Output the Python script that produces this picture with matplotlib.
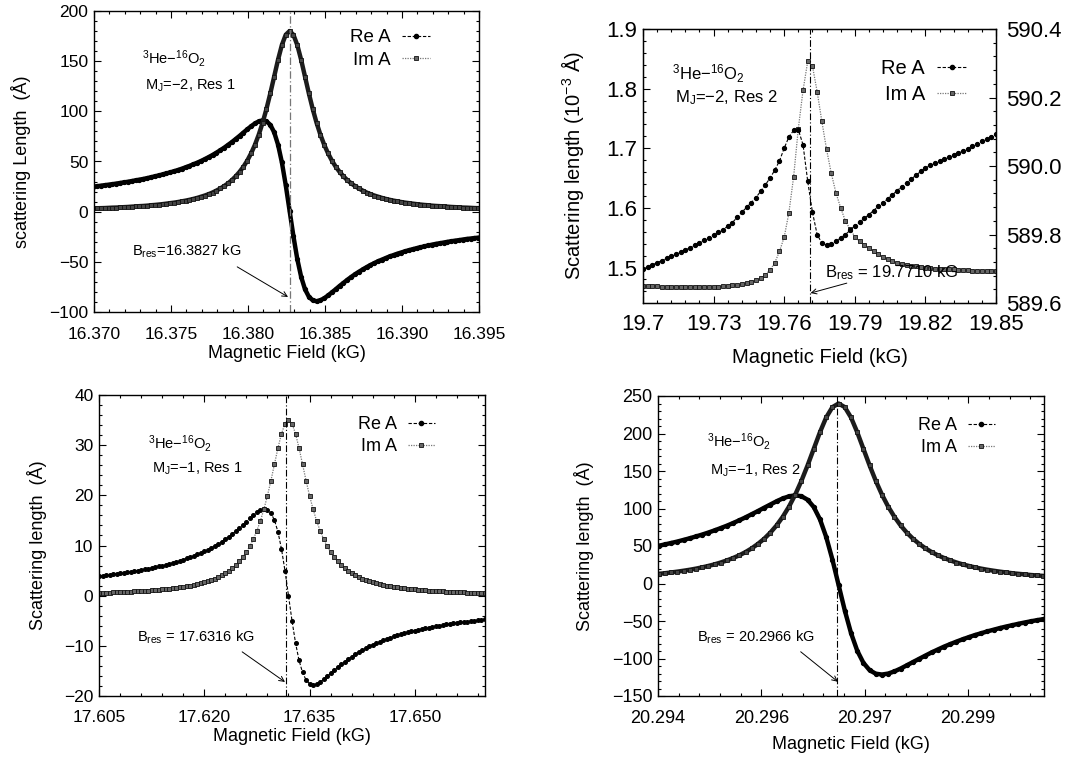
#!/usr/bin/env python3
# -*- coding: utf-8 -*-
"""
3He-16O2 Feshbach resonances: real and imaginary part of the scattering length
"""

import matplotlib.pyplot as plt
import numpy as np
from matplotlib.lines import Line2D
from matplotlib.ticker import (AutoMinorLocator, FixedFormatter, FixedLocator,
                               FormatStrFormatter, MultipleLocator)

plt.rcParams['font.family'] = ['Liberation Sans', 'DejaVu Sans']
plt.rcParams['mathtext.fontset'] = 'custom'
plt.rcParams['mathtext.rm'] = 'Liberation Sans'
plt.rcParams['mathtext.it'] = 'Liberation Sans:italic'
plt.rcParams['mathtext.bf'] = 'Liberation Sans:bold'

# ---- panel 1 : M_J=-2, Res 1 (field grid 16.3827 + 0.00025*k, k=-51..50)
b_res_1 = 16.3827
re_1 = [24.9, 25.4, 25.9, 26.4, 26.9, 27.4, 28.0, 28.6, 29.2, 29.8, 30.5, 31.2,
        31.9, 32.6, 33.4, 34.3, 35.2, 36.1, 37.1, 38.1, 39.2, 40.3, 41.5, 42.8,
        44.2, 45.6, 47.2, 48.8, 50.5, 52.4, 54.4, 56.5, 58.8, 61.2, 63.7, 66.5,
        69.3, 72.4, 75.5, 78.8, 82.0, 85.1, 87.9, 90.0, 91.0, 90.1, 86.5, 79.1,
        66.8, 49.1, 26.5, 1.0,
        -24.5, -47.2, -64.9, -77.3, -84.7, -88.3, -89.3, -88.3, -86.3, -83.5,
        -80.4, -77.3, -74.0, -71.0, -67.9, -65.1, -62.4, -59.9, -57.6, -55.3,
        -53.2, -51.3, -49.4, -47.8, -46.2, -44.6, -43.3, -41.9, -40.7, -39.5,
        -38.4, -37.4, -36.4, -35.5, -34.6, -33.7, -32.9, -32.1, -31.5, -30.8,
        -30.1, -29.5, -28.9, -28.4, -27.8, -27.2, -26.8, -26.3, -25.9, -25.4]
im_1 = [3.2, 3.4, 3.5, 3.6, 3.8, 4.0, 4.1, 4.3, 4.5, 4.7, 5.0, 5.2, 5.5, 5.7,
        6.0, 6.4, 6.7, 7.1, 7.5, 8.0, 8.5, 9.0, 9.6, 10.3, 11.0, 11.8, 12.7,
        13.7, 14.9, 16.1, 17.5, 19.1, 21.0, 23.1, 25.5, 28.2, 31.4, 35.2, 39.6,
        44.7, 50.8, 58.1, 66.6, 76.8, 88.7, 102.5, 118.0, 134.7, 151.4, 166.1,
        176.3, 180.0,
        176.3, 166.1, 151.4, 134.7, 118.0, 102.5, 88.7, 76.8, 66.6, 58.1, 50.8,
        44.7, 39.6, 35.2, 31.4, 28.2, 25.5, 23.1, 21.0, 19.1, 17.5, 16.1, 14.9,
        13.7, 12.7, 11.8, 11.0, 10.3, 9.6, 9.0, 8.5, 8.0, 7.5, 7.1, 6.7, 6.4,
        6.0, 5.7, 5.5, 5.2, 5.0, 4.7, 4.5, 4.3, 4.1, 4.0, 3.8, 3.6, 3.5, 3.4]
ticks_1 = [16.370, 16.375, 16.380, 16.385, 16.390, 16.395]

# ---- panel 2 : M_J=-2, Res 2 (field grid 19.700 + 0.002*k, k=0..75)
# Re A on the right axis (Angstrom), Im A on the left axis (1e-3 Angstrom)
b_res_2 = 19.7710
re_2 = [589.699, 589.705, 589.711, 589.718, 589.724, 589.730, 589.736, 589.742,
        589.749, 589.755, 589.762, 589.769, 589.776, 589.783, 589.791, 589.799,
        589.806, 589.814, 589.824, 589.835, 589.850, 589.865, 589.879, 589.893,
        589.908, 589.926, 589.945, 589.965, 589.988, 590.015, 590.052, 590.085,
        590.104, 590.106, 590.062, 589.955, 589.865, 589.800, 589.775, 589.768,
        589.771, 589.780, 589.790, 589.800, 589.812, 589.825, 589.836, 589.847,
        589.858, 589.870, 589.882, 589.893, 589.904, 589.916, 589.928, 589.940,
        589.951, 589.962, 589.973, 589.984, 589.994, 590.002, 590.009, 590.014,
        590.020, 590.027, 590.033, 590.039, 590.045, 590.051, 590.058, 590.065,
        590.072, 590.079, 590.086, 590.092]
im_2 = [1.469, 1.469, 1.469, 1.469, 1.468, 1.468, 1.468, 1.468, 1.468, 1.468,
        1.468, 1.468, 1.468, 1.468, 1.468, 1.468, 1.468, 1.469, 1.469, 1.470,
        1.4705, 1.472, 1.474, 1.476, 1.479, 1.483, 1.488, 1.496, 1.508, 1.527,
        1.551, 1.592, 1.652, 1.733, 1.797, 1.846, 1.838, 1.795, 1.745, 1.698,
        1.658, 1.625, 1.600, 1.578, 1.564, 1.552, 1.544, 1.538, 1.532, 1.527,
        1.522, 1.518, 1.514, 1.511, 1.508, 1.506, 1.504, 1.503, 1.502, 1.501,
        1.500, 1.499, 1.498, 1.498, 1.497, 1.497, 1.497, 1.496, 1.496, 1.496,
        1.495, 1.495, 1.495, 1.494, 1.494, 1.494]
ticks_2 = [19.70, 19.73, 19.76, 19.79, 19.82, 19.85]
ticklabels_2 = ['19.7', '19.73', '19.76', '19.79', '19.82', '19.85']

# ---- panel 3 : M_J=-1, Res 1 (field grid 17.632 + 0.0005*k, k=-54..56)
b_res_3 = 17.6316
re_3 = [3.91, 3.99, 4.08, 4.16, 4.25, 4.34, 4.44, 4.54, 4.64, 4.75, 4.87, 4.99,
        5.11, 5.24, 5.37, 5.52, 5.67, 5.83, 5.99, 6.16, 6.34, 6.53, 6.73, 6.94,
        7.18, 7.41, 7.66, 7.93, 8.21, 8.52, 8.83, 9.17, 9.53, 9.93, 10.34,
        10.79, 11.26, 11.77, 12.31, 12.88, 13.48, 14.10, 14.74, 15.39, 16.02,
        16.59, 17.02, 17.25, 17.11, 16.46, 15.05, 12.72, 9.32, 4.96, 0.00,
        -4.98, -9.40, -12.88, -15.31, -16.80, -17.55, -17.75, -17.60, -17.21,
        -16.70, -16.11, -15.50, -14.88, -14.28, -13.70, -13.15, -12.63, -12.14,
        -11.67, -11.24, -10.83, -10.45, -10.09, -9.75, -9.44, -9.15, -8.87,
        -8.60, -8.35, -8.12, -7.89, -7.69, -7.49, -7.30, -7.12, -6.95, -6.79,
        -6.63, -6.48, -6.35, -6.22, -6.09, -5.97, -5.85, -5.74, -5.63, -5.53,
        -5.43, -5.33, -5.24, -5.15, -5.07, -4.98, -4.90, -4.82, -4.75]
im_3 = [0.56, 0.58, 0.61, 0.63, 0.65, 0.68, 0.71, 0.74, 0.77, 0.80, 0.84, 0.88,
        0.92, 0.96, 1.01, 1.06, 1.12, 1.18, 1.24, 1.31, 1.38, 1.47, 1.56, 1.65,
        1.76, 1.88, 2.00, 2.15, 2.30, 2.48, 2.67, 2.89, 3.13, 3.41, 3.72, 4.08,
        4.48, 4.95, 5.49, 6.11, 6.84, 7.69, 8.70, 9.88, 11.29, 12.96, 14.93,
        17.25, 19.93, 22.95, 26.20, 29.44, 32.29, 34.28, 35.00,
        34.28, 32.29, 29.44, 26.20, 22.95, 19.93, 17.25, 14.93, 12.96, 11.29,
        9.88, 8.70, 7.69, 6.84, 6.11, 5.49, 4.95, 4.48, 4.08, 3.72, 3.41, 3.13,
        2.89, 2.67, 2.48, 2.30, 2.15, 2.00, 1.88, 1.76, 1.65, 1.56, 1.47, 1.38,
        1.31, 1.24, 1.18, 1.12, 1.06, 1.01, 0.96, 0.92, 0.88, 0.84, 0.80, 0.77,
        0.74, 0.71, 0.68, 0.65, 0.63, 0.61, 0.58, 0.56, 0.54, 0.52]
ticks_3 = [17.605, 17.620, 17.635, 17.650]

# ---- panel 4 : M_J=-1, Res 2 (field grid 20.29662 + 0.00009*k, k=-30..34)
b_res_4 = 20.2966
re_4 = [48.6, 50.3, 52.1, 54.0, 55.9, 58.1, 60.3, 62.7, 65.2, 67.9, 70.8, 73.9,
        77.1, 80.6, 84.3, 88.2, 92.4, 96.6, 101.0, 105.3, 109.6, 113.4, 116.2,
        117.6, 116.4, 111.7, 101.9, 85.5, 62.1, 32.0, -2.0,
        -36.0, -66.0, -89.5, -105.8, -115.6, -120.3, -121.4, -120.1, -117.2,
        -113.4, -109.1, -104.7, -100.4, -96.1, -91.9, -88.0, -84.2, -80.8,
        -77.5, -74.4, -71.5, -68.7, -66.3, -63.8, -61.6, -59.4, -57.4, -55.6,
        -53.7, -52.0, -50.4, -48.9, -47.5, -46.1]
im_4 = [12.1, 12.9, 13.7, 14.7, 15.8, 17.0, 18.3, 19.8, 21.5, 23.4, 25.5, 28.0,
        30.8, 34.0, 37.6, 41.9, 46.9, 52.8, 59.6, 67.8, 77.4, 88.9, 102.4,
        118.3, 136.7, 157.4, 179.6, 201.8, 221.4, 235.1, 240.0,
        235.1, 221.4, 201.8, 179.6, 157.4, 136.7, 118.3, 102.4, 88.9, 77.4,
        67.8, 59.6, 52.8, 46.9, 41.9, 37.6, 34.0, 30.8, 28.0, 25.5, 23.4, 21.5,
        19.8, 18.3, 17.0, 15.8, 14.7, 13.7, 12.9, 12.1, 11.3, 10.7, 10.1, 9.5]
ticks_4 = [20.294, 20.2955, 20.297, 20.2985]
ticklabels_4 = ['20.294', '20.296', '20.297', '20.299']

field_1 = 16.3827 + 0.00025 * np.arange(-51, 51)
field_2 = 19.700 + 0.002 * np.arange(76)
field_3 = 17.632 + 0.0005 * np.arange(-54, 57)
field_4 = 20.29662 + 0.00009 * np.arange(-30, 35)

HE_O2 = r'$^{3}$He' + '\u2212' + r'$^{16}$O$_{2}$'
RE_LEG = dict(color='black', ls=(0, (3, 1.6)), lw=0.8, marker='o', ms=3,
              mfc='black', mec='black')
IM_LEG = dict(color='#777777', ls=(0, (1, 1)), lw=0.9, marker='s', ms=3,
              mfc='#666666', mec='#111111', mew=0.6)


def set_ticks(ax, size, xpad=6, ypad=4):
    ax.tick_params(which='both', direction='in', top=True, right=True,
                   width=0.8, labelsize=size)
    ax.tick_params(which='major', length=5)
    ax.tick_params(which='minor', length=2.5)
    ax.tick_params(axis='x', pad=xpad)
    ax.tick_params(axis='y', pad=ypad)
    for sp in ax.spines.values():
        sp.set_linewidth(1.0)


def add_legend(ax, size, anchor, spacing=0.3):
    handles = [Line2D([], [], **RE_LEG), Line2D([], [], **IM_LEG)]
    ax.legend(handles, ['Re A', 'Im A'], loc='upper right',
              bbox_to_anchor=anchor, frameon=False, markerfirst=False,
              fontsize=size, handlelength=1.5, handletextpad=0.6,
              labelspacing=spacing, borderpad=0, borderaxespad=0, numpoints=1)


def add_notes(ax, size, name_xy, state_xy, state, b_xy, b_text, tail, tip):
    ax.text(name_xy[0], name_xy[1], HE_O2, fontsize=size, va='center')
    ax.text(state_xy[0], state_xy[1], state, fontsize=size, va='center')
    ax.text(b_xy[0], b_xy[1], b_text, fontsize=size, va='center', zorder=5)
    ax.annotate('', xy=tip, xytext=tail,
                arrowprops=dict(arrowstyle='->', lw=0.7, color='black',
                                shrinkA=0, shrinkB=0, mutation_scale=9))


def draw_dense(ax, field, re, im):
    ax.plot(field, re, color='black', lw=3.2, marker='o', ms=2.8,
            solid_joinstyle='round')
    ax.plot(field, im, color='#1c1c1c', lw=3.2, marker='s', ms=2.8,
            mfc='#444444', mec='#111111', mew=0.6, solid_joinstyle='round')


def draw_points(ax, field, re, im, ms):
    ax.plot(field, re, color='black', ls=(0, (3, 1.6)), lw=0.8, marker='o',
            ms=ms, mfc='black', mec='black')
    ax.plot(field, im, color='#777777', ls=(0, (1, 1)), lw=0.9, marker='s',
            ms=ms, mfc='#666666', mec='#111111', mew=0.6)


W, H = 1089, 760
fig = plt.figure(figsize=(W / 100, H / 100), dpi=100)


def box(x0, y0, x1, y1):
    return [x0 / W, 1 - y1 / H, (x1 - x0) / W, (y1 - y0) / H]


# ---------------- panel 1
ax1 = fig.add_axes(box(94, 11, 479, 312))
draw_dense(ax1, field_1, re_1, im_1)
ax1.axvline(b_res_1, color='#777777', lw=0.9, ls=(0, (6, 2, 1, 2)))
ax1.set_xlim(16.370, 16.395)
ax1.set_ylim(-100, 200)
ax1.xaxis.set_major_locator(FixedLocator(ticks_1))
ax1.xaxis.set_major_formatter(FormatStrFormatter('%.3f'))
ax1.xaxis.set_minor_locator(AutoMinorLocator(5))
ax1.yaxis.set_major_locator(MultipleLocator(50))
ax1.yaxis.set_minor_locator(AutoMinorLocator(5))
set_ticks(ax1, 12.5, xpad=11)
ax1.set_xlabel('Magnetic Field (kG)', fontsize=13, labelpad=2)
ax1.set_ylabel('scattering Length  (Å)', fontsize=13, labelpad=13)
add_legend(ax1, 13.5, (0.873, 0.94))
add_notes(ax1, 10.5, (16.3731, 153), (16.3733, 125),
          'M$_\\mathrm{J}$=\u22122, Res 1',
          (16.3725, -40), 'B$_\\mathrm{res}$=16.3827 kG',
          (16.3793, -55), (16.3826, -85))

# ---------------- panel 2
ax2 = fig.add_axes(box(643, 29, 996, 303))
ax2r = ax2.twinx()
ax2.plot(field_2, im_2, color='#777777', ls=(0, (1, 1)), lw=0.9, marker='s',
         ms=2.8, mfc='#666666', mec='#111111', mew=0.6)
ax2r.plot(field_2, re_2, color='black', ls=(0, (3, 1.6)), lw=0.8, marker='o',
          ms=2.8, mfc='black', mec='black')
ax2.axvline(b_res_2, color='black', lw=0.8, ls=(0, (6, 2, 1, 2)))
ax2.set_xlim(19.70, 19.85)
ax2.set_ylim(1.4405, 1.9)
ax2r.set_ylim(589.6, 590.4)
ax2.xaxis.set_major_locator(FixedLocator(ticks_2))
ax2.xaxis.set_major_formatter(FixedFormatter(ticklabels_2))
ax2.xaxis.set_minor_locator(AutoMinorLocator(5))
ax2.yaxis.set_major_locator(MultipleLocator(0.1))
ax2.yaxis.set_major_formatter(FormatStrFormatter('%.1f'))
ax2.yaxis.set_minor_locator(AutoMinorLocator(5))
ax2r.yaxis.set_major_locator(MultipleLocator(0.2))
ax2r.yaxis.set_major_formatter(FormatStrFormatter('%.1f'))
ax2r.yaxis.set_minor_locator(AutoMinorLocator(5))
set_ticks(ax2, 16, xpad=8)
ax2.tick_params(which='both', right=False)
ax2r.tick_params(which='both', direction='in', width=0.8, labelsize=16,
                 pad=7)
ax2r.tick_params(which='major', length=5)
ax2r.tick_params(which='minor', length=2.5)
ax2.set_xlabel('Magnetic Field (kG)', fontsize=14.5, labelpad=9)
ax2.set_ylabel('Scattering length (10$^{-3}$ Å)', fontsize=14.5, labelpad=15)
add_legend(ax2r, 14.5, (0.918, 0.89), spacing=0.35)
add_notes(ax2r, 12, (19.7122, 590.27), (19.7136, 590.20),
          'M$_\\mathrm{J}$=\u22122, Res 2',
          (19.7773, 589.69), 'B$_\\mathrm{res}$ = 19.7710 kG',
          (19.7866, 589.658), (19.7712, 589.629))

# ---------------- panel 3
ax3 = fig.add_axes(box(99, 395, 485, 696))
draw_points(ax3, field_3, re_3, im_3, 2.6)
ax3.axvline(b_res_3, color='black', lw=0.8, ls=(0, (6, 2, 1, 2)))
ax3.set_xlim(17.605, 17.660)
ax3.set_ylim(-20, 40)
ax3.xaxis.set_major_locator(FixedLocator(ticks_3))
ax3.xaxis.set_major_formatter(FormatStrFormatter('%.3f'))
ax3.xaxis.set_minor_locator(AutoMinorLocator(5))
ax3.yaxis.set_major_locator(MultipleLocator(10))
ax3.yaxis.set_minor_locator(AutoMinorLocator(5))
set_ticks(ax3, 12.5, xpad=10)
ax3.set_xlabel('Magnetic Field (kG)', fontsize=13, labelpad=2.5)
ax3.set_ylabel('Scattering length  (Å)', fontsize=13, labelpad=12)
add_legend(ax3, 13, (0.870, 0.93))
add_notes(ax3, 10.5, (17.6120, 30.4), (17.6125, 25.2),
          'M$_\\mathrm{J}$=\u22121, Res 1',
          (17.6104, -8.2), 'B$_\\mathrm{res}$ = 17.6316 kG',
          (17.6254, -11.2), (17.6315, -17.2))

# ---------------- panel 4
ax4 = fig.add_axes(box(658, 396, 1044, 696))
draw_dense(ax4, field_4, re_4, im_4)
ax4.axvline(b_res_4, color='black', lw=0.8, ls=(0, (6, 2, 1, 2)))
ax4.set_xlim(20.294, 20.2996)
ax4.set_ylim(-150, 250)
ax4.xaxis.set_major_locator(FixedLocator(ticks_4))
ax4.xaxis.set_major_formatter(FixedFormatter(ticklabels_4))
ax4.xaxis.set_minor_locator(AutoMinorLocator(5))
ax4.yaxis.set_major_locator(MultipleLocator(50))
ax4.yaxis.set_minor_locator(AutoMinorLocator(5))
set_ticks(ax4, 13, xpad=10)
ax4.set_xlabel('Magnetic Field (kG)', fontsize=13, labelpad=6.5)
ax4.set_ylabel('Scattering length  (Å)', fontsize=13, labelpad=13)
add_legend(ax4, 13, (0.873, 0.93))
add_notes(ax4, 10.5, (20.29471, 189), (20.29476, 150),
          'M$_\\mathrm{J}$=\u22121, Res 2',
          (20.29456, -72), 'B$_\\mathrm{res}$ = 20.2966 kG',
          (20.29607, -91), (20.29661, -131))

fig.savefig('out.png', dpi=100)
